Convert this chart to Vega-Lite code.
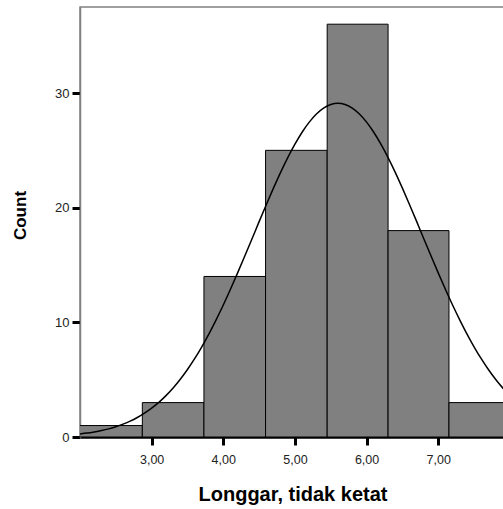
{
  "$schema": "https://vega.github.io/schema/vega-lite/v6.json",
  "autosize": "none",
  "width": 425,
  "height": 430,
  "padding": {"left": 80, "top": 7, "right": 0, "bottom": 72},
  "background": "white",
  "config": {
    "font": "Liberation Sans",
    "view": {"stroke": "#808080", "strokeWidth": 1.5}
  },
  "datasets": {
    "bins": [
      {"bin_start": 1.99, "bin_end": 2.87, "count": 1},
      {"bin_start": 2.87, "bin_end": 3.73, "count": 3},
      {"bin_start": 3.73, "bin_end": 4.59, "count": 14},
      {"bin_start": 4.59, "bin_end": 5.45, "count": 25},
      {"bin_start": 5.45, "bin_end": 6.30, "count": 36},
      {"bin_start": 6.30, "bin_end": 7.15, "count": 18},
      {"bin_start": 7.15, "bin_end": 8.01, "count": 3}
    ],
    "curve": [
      {"x": 2.0, "y": 0.27}, {"x": 2.1, "y": 0.34}, {"x": 2.2, "y": 0.44}, {"x": 2.3, "y": 0.56},
      {"x": 2.4, "y": 0.71}, {"x": 2.5, "y": 0.90}, {"x": 2.6, "y": 1.12}, {"x": 2.7, "y": 1.38},
      {"x": 2.8, "y": 1.70}, {"x": 2.9, "y": 2.08}, {"x": 3.0, "y": 2.52}, {"x": 3.1, "y": 3.02},
      {"x": 3.2, "y": 3.61}, {"x": 3.3, "y": 4.28}, {"x": 3.4, "y": 5.04}, {"x": 3.5, "y": 5.89},
      {"x": 3.6, "y": 6.83}, {"x": 3.7, "y": 7.87}, {"x": 3.8, "y": 9.00}, {"x": 3.9, "y": 10.22},
      {"x": 4.0, "y": 11.51}, {"x": 4.1, "y": 12.88}, {"x": 4.2, "y": 14.31}, {"x": 4.3, "y": 15.78},
      {"x": 4.4, "y": 17.27}, {"x": 4.5, "y": 18.78}, {"x": 4.6, "y": 20.26}, {"x": 4.7, "y": 21.70},
      {"x": 4.8, "y": 23.08}, {"x": 4.9, "y": 24.37}, {"x": 5.0, "y": 25.54}, {"x": 5.1, "y": 26.58},
      {"x": 5.2, "y": 27.46}, {"x": 5.3, "y": 28.17}, {"x": 5.4, "y": 28.68}, {"x": 5.5, "y": 28.99},
      {"x": 5.6, "y": 29.10}, {"x": 5.7, "y": 28.99}, {"x": 5.8, "y": 28.68}, {"x": 5.9, "y": 28.17},
      {"x": 6.0, "y": 27.46}, {"x": 6.1, "y": 26.58}, {"x": 6.2, "y": 25.54}, {"x": 6.3, "y": 24.37},
      {"x": 6.4, "y": 23.08}, {"x": 6.5, "y": 21.70}, {"x": 6.6, "y": 20.26}, {"x": 6.7, "y": 18.78},
      {"x": 6.8, "y": 17.27}, {"x": 6.9, "y": 15.78}, {"x": 7.0, "y": 14.31}, {"x": 7.1, "y": 12.88},
      {"x": 7.2, "y": 11.51}, {"x": 7.3, "y": 10.22}, {"x": 7.4, "y": 9.00}, {"x": 7.5, "y": 7.87},
      {"x": 7.6, "y": 6.83}, {"x": 7.7, "y": 5.89}, {"x": 7.8, "y": 5.04}, {"x": 7.9, "y": 4.28},
      {"x": 7.95, "y": 3.94}
    ]
  },
  "layer": [
    {
      "data": {"name": "bins"},
      "mark": {"type": "bar", "fill": "#808080", "stroke": "#000000", "strokeWidth": 1, "clip": true},
      "encoding": {
        "x": {
          "field": "bin_start", "type": "quantitative",
          "scale": {"domain": [2, 7.932], "nice": false, "zero": false},
          "axis": {
            "values": [3, 4, 5, 6, 7],
            "labelExpr": "replace(format(datum.value, '.2f'), '.', ',')",
            "title": "Longgar, tidak ketat",
            "titleFont": "Liberation Sans", "titleFontWeight": "bold", "titleFontSize": 20,
            "titleColor": "#000000", "titleBaseline": "alphabetic", "titleY": 63,
            "labelFont": "Liberation Sans", "labelFontSize": 12.5, "labelColor": "#222222",
            "labelPadding": 8,
            "grid": false,
            "domainColor": "#000000", "domainWidth": 2.5,
            "tickColor": "#000000", "tickWidth": 3, "tickSize": 8
          }
        },
        "x2": {"field": "bin_end"},
        "y": {
          "field": "count", "type": "quantitative",
          "scale": {"domain": [0, 37.5], "nice": false},
          "axis": {
            "values": [0, 10, 20, 30],
            "title": "Count",
            "titleFont": "Liberation Sans", "titleFontWeight": "bold", "titleFontSize": 17,
            "titleColor": "#000000", "titleBaseline": "alphabetic", "titleX": -55, "titleY": 208,
            "labelFont": "Liberation Sans", "labelFontSize": 13, "labelColor": "#222222",
            "labelPadding": 3,
            "grid": false,
            "domainColor": "#808080", "domainWidth": 1.5,
            "tickColor": "#000000", "tickWidth": 3, "tickSize": 8
          }
        },
        "y2": {"datum": 0}
      }
    },
    {
      "data": {"name": "curve"},
      "mark": {"type": "line", "color": "#000000", "strokeWidth": 1.5, "clip": true, "interpolate": "monotone"},
      "encoding": {
        "x": {"field": "x", "type": "quantitative"},
        "y": {"field": "y", "type": "quantitative"}
      }
    }
  ]
}
